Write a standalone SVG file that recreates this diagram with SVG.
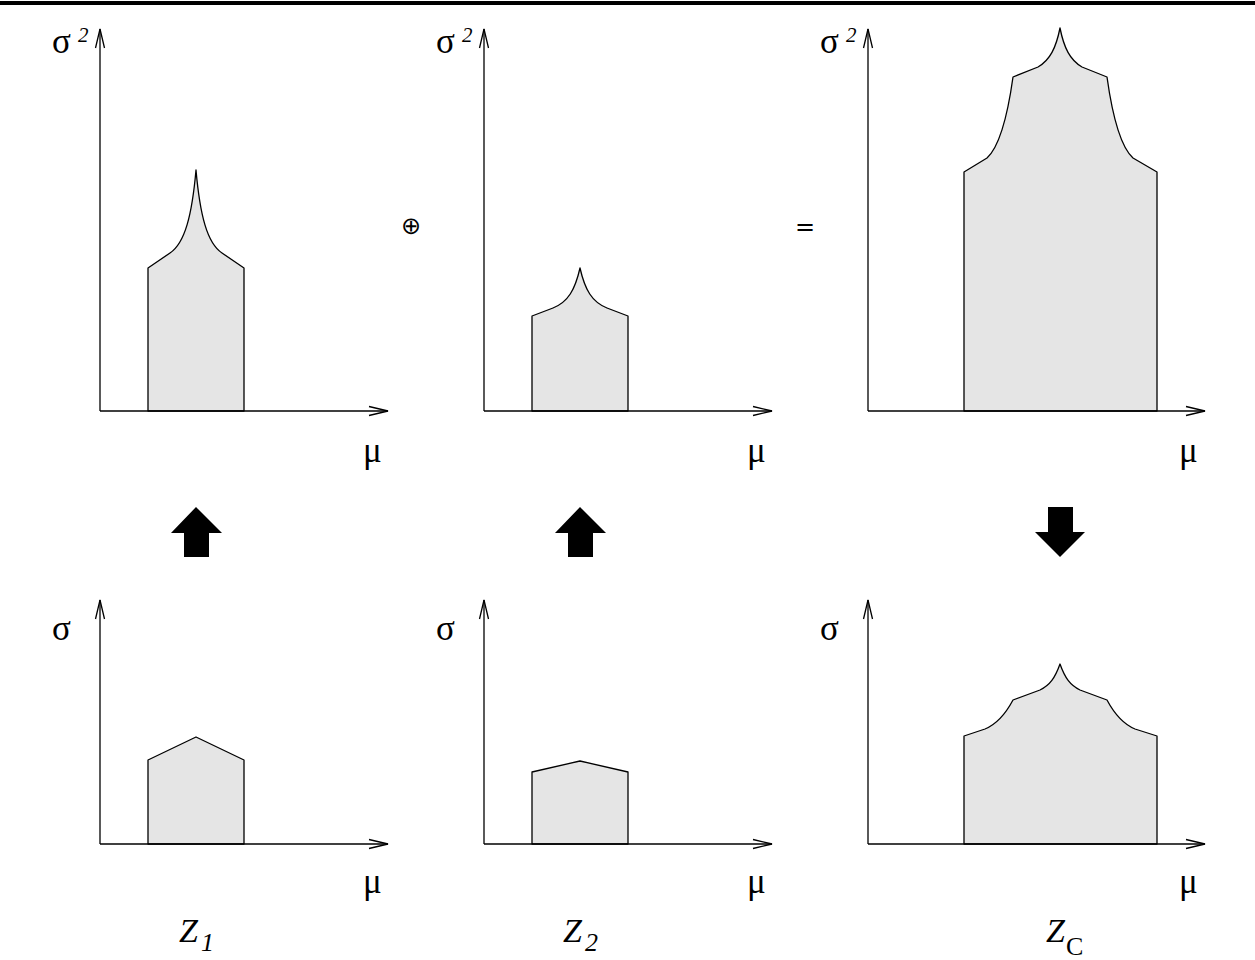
<svg xmlns="http://www.w3.org/2000/svg" width="1255" height="960" viewBox="0 0 1255 960">
<style>
.ax{stroke:#000;stroke-width:1.3;fill:none}
.ah{stroke:#000;stroke-width:1.3;fill:none}
.sh{fill:#e5e5e5;stroke:#000;stroke-width:1.3;stroke-linejoin:round}
.lb{font-family:"Liberation Serif",serif;font-size:35px;fill:#000}
.sup{font-family:"Liberation Serif",serif;font-size:21px;font-style:italic;fill:#000}
.sub{font-family:"Liberation Serif",serif;font-size:26px;font-style:italic;fill:#000}
.z{font-family:"Liberation Serif",serif;font-size:34px;font-style:italic;fill:#000}
.op{font-family:"DejaVu Sans",sans-serif;fill:#000}
.blk{fill:#000}
</style>
<defs>
<g id="yarrow"><path class="ah" d="M-4.5,19 L0,0 L4.5,19"/></g>
<g id="xarrow"><path class="ah" d="M-19,-4.5 L0,0 L-19,4.5"/></g>
</defs>
<rect x="0" y="1" width="1255" height="4" fill="#000"/>
<g id="panel-top-1">
<path class="sh" d="M148,411 L148,268 L170,253 C185,243 192,215 196,170 C200,215 207,243 222,253 L244,268 L244,411 Z"/>
<line class="ax" x1="100" y1="411" x2="100" y2="29"/><use href="#yarrow" x="100" y="29"/>
<line class="ax" x1="100" y1="411" x2="388" y2="411"/><use href="#xarrow" x="388" y="411"/>
<text class="lb" x="52" y="53">σ</text><text class="sup" x="78" y="42">2</text>
<text class="lb" x="363" y="462">μ</text>
</g>
<g id="panel-top-2">
<path class="sh" d="M532,411 L532,316 L553,308 C568,302 575,290 580,268 C585,290 592,302 607,308 L628,316 L628,411 Z"/>
<line class="ax" x1="484" y1="411" x2="484" y2="29"/><use href="#yarrow" x="484" y="29"/>
<line class="ax" x1="484" y1="411" x2="772" y2="411"/><use href="#xarrow" x="772" y="411"/>
<text class="lb" x="436" y="53">σ</text><text class="sup" x="462" y="42">2</text>
<text class="lb" x="747" y="462">μ</text>
</g>
<g id="panel-top-3">
<path class="sh" d="M964,411 L964,172 L987,158 C998,148 1007,120 1013,77 L1038,67 C1050,60 1056,48 1060,28 C1064,48 1070,60 1082,67 L1107,77 C1113,120 1122,148 1133,158 L1157,172 L1157,411 Z"/>
<line class="ax" x1="868" y1="411" x2="868" y2="29"/><use href="#yarrow" x="868" y="29"/>
<line class="ax" x1="868" y1="411" x2="1205" y2="411"/><use href="#xarrow" x="1205" y="411"/>
<text class="lb" x="820" y="53">σ</text><text class="sup" x="846" y="42">2</text>
<text class="lb" x="1179" y="462">μ</text>
</g>
<g id="op-plus"><text class="op" x="411" y="234" text-anchor="middle" style="font-size:24px">⊕</text></g>
<g id="op-eq"><text class="op" x="805" y="235" text-anchor="middle" style="font-size:24px">=</text></g>
<g id="arrows">
<polygon class="blk" points="196,507 222,533 209,533 209,557 184,557 184,533 171,533"/>
<polygon class="blk" points="580,507 606,533 593,533 593,557 568,557 568,533 555,533"/>
<polygon class="blk" points="1048,507 1073,507 1073,532 1085,532 1060,557 1035,532 1048,532"/>
</g>
<g id="panel-bot-1">
<path class="sh" d="M148,844 L148,760 L196,737 L244,760 L244,844 Z"/>
<line class="ax" x1="100" y1="844" x2="100" y2="600"/><use href="#yarrow" x="100" y="600"/>
<line class="ax" x1="100" y1="844" x2="388" y2="844"/><use href="#xarrow" x="388" y="844"/>
<text class="lb" x="52" y="640">σ</text>
<text class="lb" x="363" y="893">μ</text>
<text class="z" x="179" y="942">Z</text><text class="sub" x="201" y="951">1</text>
</g>
<g id="panel-bot-2">
<path class="sh" d="M532,844 L532,772 L580,761 L628,772 L628,844 Z"/>
<line class="ax" x1="484" y1="844" x2="484" y2="600"/><use href="#yarrow" x="484" y="600"/>
<line class="ax" x1="484" y1="844" x2="772" y2="844"/><use href="#xarrow" x="772" y="844"/>
<text class="lb" x="436" y="640">σ</text>
<text class="lb" x="747" y="893">μ</text>
<text class="z" x="563" y="942">Z</text><text class="sub" x="585" y="951">2</text>
</g>
<g id="panel-bot-3">
<path class="sh" d="M964,844 L964,736 L985,729 C997,724 1005,715 1013,700 L1040,690 C1050,685 1055,678 1060,664 C1065,678 1070,685 1080,690 L1107,700 C1115,715 1123,724 1135,729 L1157,736 L1157,844 Z"/>
<line class="ax" x1="868" y1="844" x2="868" y2="600"/><use href="#yarrow" x="868" y="600"/>
<line class="ax" x1="868" y1="844" x2="1205" y2="844"/><use href="#xarrow" x="1205" y="844"/>
<text class="lb" x="820" y="640">σ</text>
<text class="lb" x="1179" y="893">μ</text>
<text class="z" x="1046" y="942">Z</text><text class="lb" x="1066" y="955" style="font-size:26px">C</text>
</g>
</svg>
